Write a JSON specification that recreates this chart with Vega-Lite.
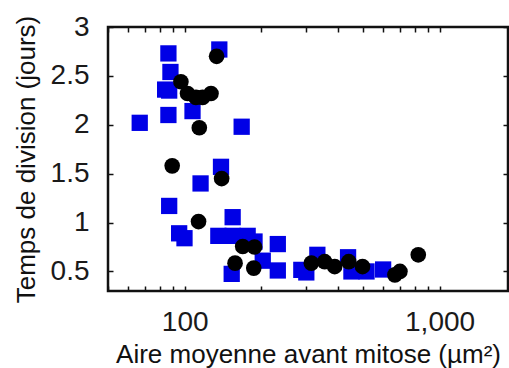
{
  "$schema": "https://vega.github.io/schema/vega-lite/v6.json",
  "width": 400,
  "height": 264,
  "autosize": "none",
  "padding": {"left": 108, "top": 27, "right": 1, "bottom": 77},
  "background": "white",
  "config": {
    "view": {"stroke": "#111", "strokeWidth": 2.5},
    "font": "Liberation Sans",
    "axis": {
      "domain": false,
      "grid": false,
      "tickColor": "#111",
      "tickWidth": 1.5,
      "tickSize": -5,
      "labelFont": "Liberation Sans",
      "labelColor": "#1a1a1a",
      "titleFont": "Liberation Sans",
      "titleColor": "#111",
      "titleFontWeight": "normal"
    }
  },
  "datasets": {
    "cells": [
      {"area": 66.6, "days": 2.02, "group": "A"},
      {"area": 86.3, "days": 2.73, "group": "A"},
      {"area": 87.9, "days": 2.54, "group": "A"},
      {"area": 83.8, "days": 2.36, "group": "A"},
      {"area": 86.9, "days": 2.35, "group": "A"},
      {"area": 86.3, "days": 2.10, "group": "A"},
      {"area": 107.3, "days": 2.14, "group": "A"},
      {"area": 136.7, "days": 2.77, "group": "A"},
      {"area": 167.3, "days": 1.98, "group": "A"},
      {"area": 138.8, "days": 1.57, "group": "A"},
      {"area": 115.4, "days": 1.40, "group": "A"},
      {"area": 86.9, "days": 1.17, "group": "A"},
      {"area": 95.1, "days": 0.89, "group": "A"},
      {"area": 99.8, "days": 0.84, "group": "A"},
      {"area": 154.2, "days": 1.055, "group": "A"},
      {"area": 135.5, "days": 0.864, "group": "A"},
      {"area": 154.2, "days": 0.864, "group": "A"},
      {"area": 176.6, "days": 0.864, "group": "A"},
      {"area": 187.9, "days": 0.806, "group": "A"},
      {"area": 231.9, "days": 0.78, "group": "A"},
      {"area": 202.4, "days": 0.61, "group": "A"},
      {"area": 152.9, "days": 0.475, "group": "A"},
      {"area": 231.9, "days": 0.51, "group": "A"},
      {"area": 286.8, "days": 0.516, "group": "A"},
      {"area": 300.0, "days": 0.49, "group": "A"},
      {"area": 331.5, "days": 0.67, "group": "A"},
      {"area": 437.5, "days": 0.645, "group": "A"},
      {"area": 451.0, "days": 0.50, "group": "A"},
      {"area": 516.9, "days": 0.50, "group": "A"},
      {"area": 600.6, "days": 0.52, "group": "A"},
      {"area": 133.4, "days": 2.70, "group": "B"},
      {"area": 96.6, "days": 2.44, "group": "B"},
      {"area": 102.6, "days": 2.32, "group": "B"},
      {"area": 110.7, "days": 2.28, "group": "B"},
      {"area": 117.5, "days": 2.28, "group": "B"},
      {"area": 126.8, "days": 2.32, "group": "B"},
      {"area": 114.1, "days": 1.97, "group": "B"},
      {"area": 89.3, "days": 1.58, "group": "B"},
      {"area": 139.6, "days": 1.45, "group": "B"},
      {"area": 113.3, "days": 1.01, "group": "B"},
      {"area": 168.9, "days": 0.755, "group": "B"},
      {"area": 187.9, "days": 0.75, "group": "B"},
      {"area": 157.6, "days": 0.585, "group": "B"},
      {"area": 186.6, "days": 0.534, "group": "B"},
      {"area": 314.0, "days": 0.585, "group": "B"},
      {"area": 354.2, "days": 0.60, "group": "B"},
      {"area": 387.7, "days": 0.55, "group": "B"},
      {"area": 440.3, "days": 0.60, "group": "B"},
      {"area": 498.5, "days": 0.55, "group": "B"},
      {"area": 668.0, "days": 0.465, "group": "B"},
      {"area": 699.0, "days": 0.50, "group": "B"},
      {"area": 825.0, "days": 0.67, "group": "B"}
    ]
  },
  "data": {"name": "cells"},
  "resolve": {"axis": {"x": "independent", "y": "independent"}},
  "layer": [
    {
      "transform": [{"filter": "datum.group === 'A'"}],
      "mark": {"type": "square", "filled": true, "size": 265, "color": "#0000e6", "opacity": 1},
      "encoding": {
        "x": {
          "field": "area", "type": "quantitative",
          "scale": {"type": "log", "domain": [50, 1856], "nice": false},
          "axis": {
            "orient": "bottom",
            "values": [50, 60, 70, 80, 90, 100, 200, 300, 400, 500, 600, 700, 800, 900, 1000],
            "labelExpr": "datum.value === 100 ? '100' : (datum.value === 1000 ? '1,000' : '')",
            "labelOverlap": false,
            "labelFlush": false,
            "labelFontSize": 28,
            "labelPadding": 22,
            "title": "Aire moyenne avant mitose (µm²)",
            "titleFontSize": 26,
            "titleBaseline": "alphabetic",
            "titleY": 71
          }
        },
        "y": {
          "field": "days", "type": "quantitative",
          "scale": {"domain": [0.3, 3], "nice": false, "zero": false},
          "axis": {
            "orient": "left",
            "values": [0.5, 1, 1.5, 2, 2.5, 3],
            "format": "~g",
            "labelFontSize": 28,
            "labelPadding": 24,
            "title": "Temps de division (jours)",
            "titleFontSize": 26,
            "titleBaseline": "alphabetic",
            "titleX": -74
          }
        }
      }
    },
    {
      "transform": [{"filter": "datum.group === 'B'"}],
      "mark": {"type": "circle", "size": 245, "color": "#000000", "opacity": 1},
      "encoding": {
        "x": {
          "field": "area", "type": "quantitative",
          "scale": {"type": "log", "domain": [50, 1856], "nice": false},
          "axis": {
            "orient": "top",
            "values": [50, 60, 70, 80, 90, 100, 200, 300, 400, 500, 600, 700, 800, 900, 1000],
            "labels": false,
            "title": null
          }
        },
        "y": {
          "field": "days", "type": "quantitative",
          "scale": {"domain": [0.3, 3], "nice": false, "zero": false},
          "axis": {
            "orient": "right",
            "values": [0.5, 1, 1.5, 2, 2.5, 3],
            "labels": false,
            "title": null
          }
        }
      }
    }
  ]
}
